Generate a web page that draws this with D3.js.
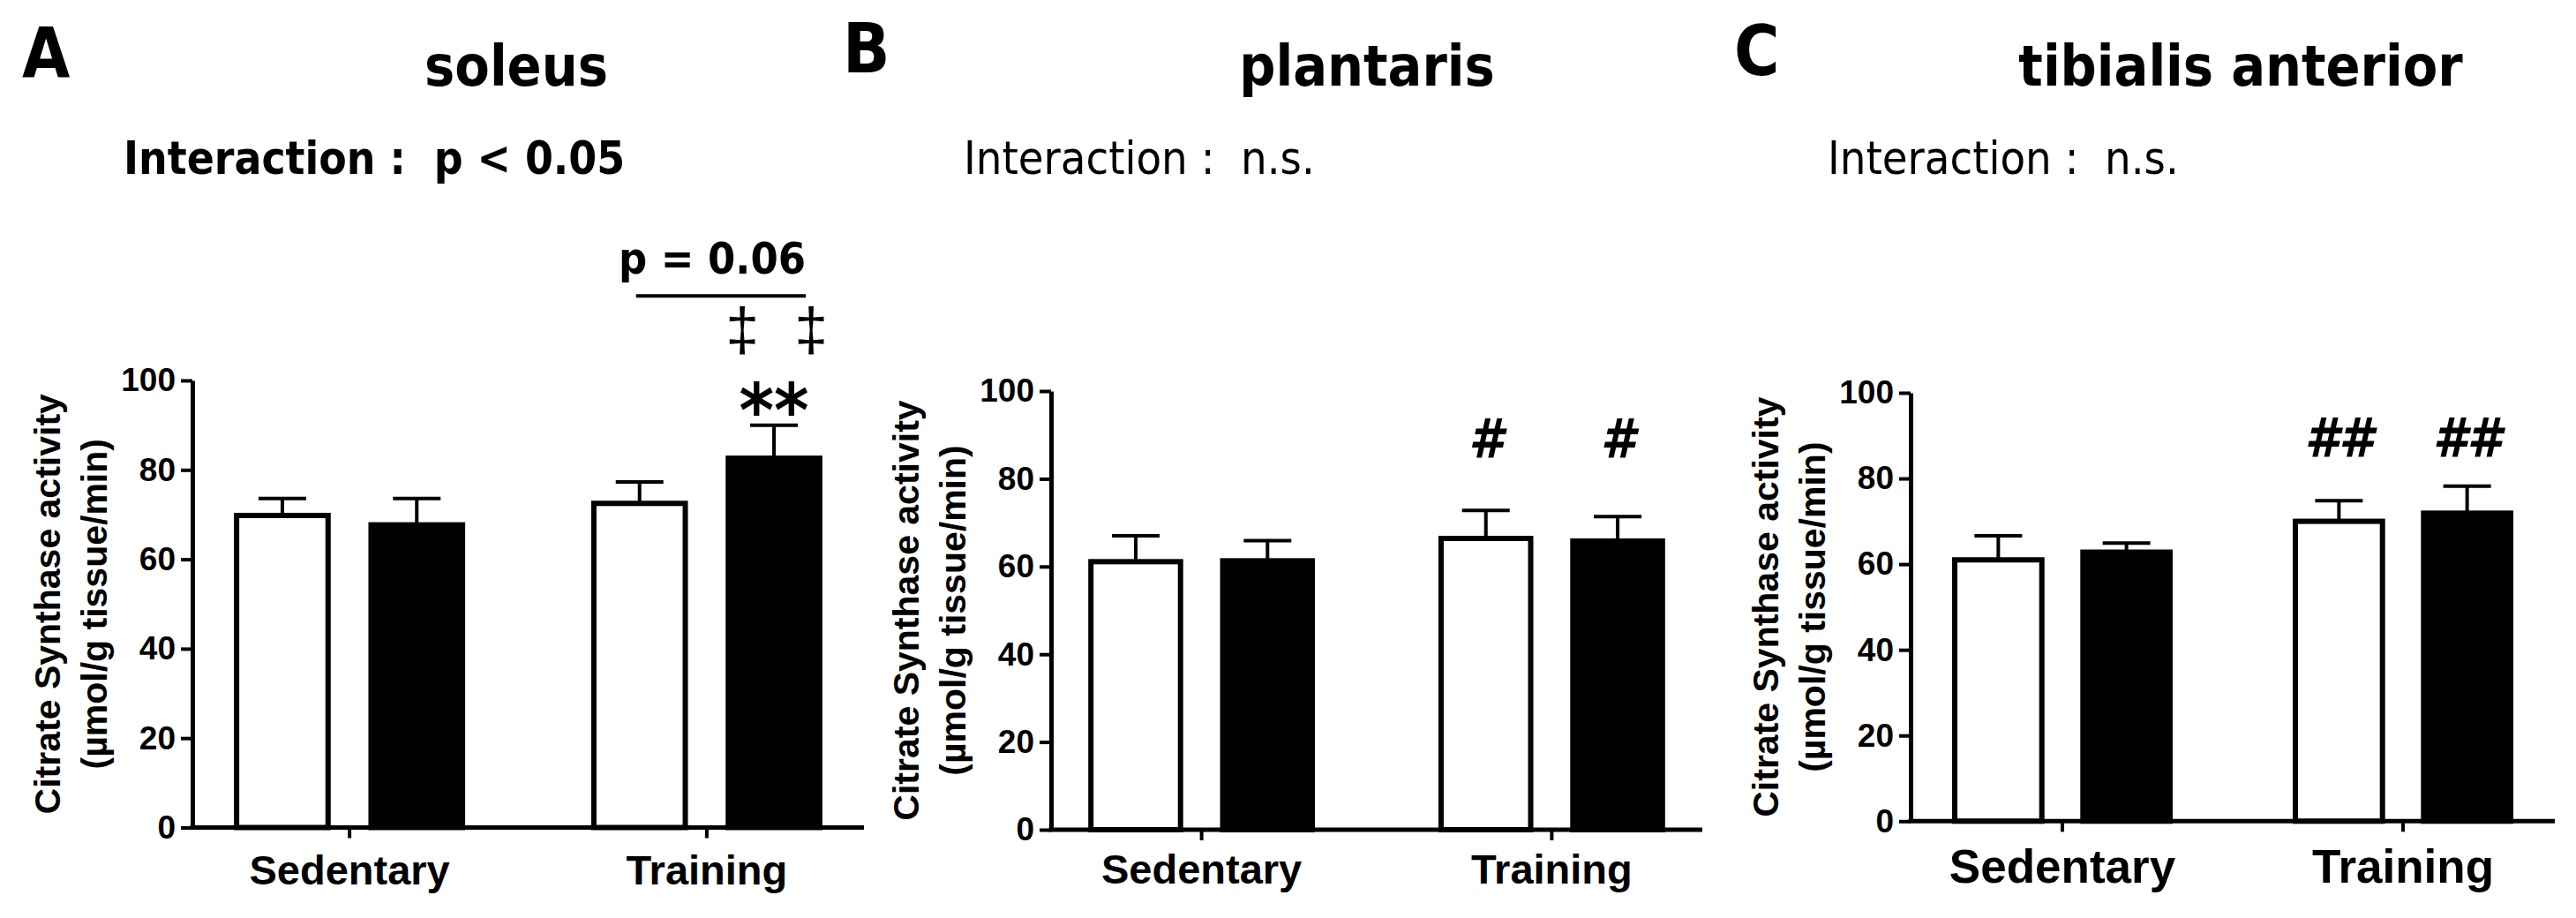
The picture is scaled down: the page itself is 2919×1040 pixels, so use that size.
<!DOCTYPE html>
<html>
<head>
<meta charset="utf-8">
<script src="https://cdn.jsdelivr.net/npm/d3@7"></script>
<style>
  body { margin: 0; background: #fff; }
  text { white-space: pre; }
</style>
</head>
<body>
<div id="container"></div>
<script>
/* DATA */
const groups = ["Sedentary", "Training"]
const yTicks = [0, 20, 40, 60, 80, 100]
const panelLetters = ["A", "B", "C"]
const muscles = ["soleus", "plantaris", "tibialis anterior"]
const interactions = ["Interaction :  p < 0.05", "Interaction :  n.s.", "Interaction :  n.s."]

// bar order: Sedentary open, Sedentary filled, Training open, Training filled
const soleusMean = [69.8, 67.7, 72.5, 82.6]
const soleusSem = [3.8, 5.9, 4.8, 7.4]
const plantarisMean = [61.1, 61.3, 66.4, 65.8]
const plantarisSem = [5.9, 4.6, 6.4, 5.6]
const tibialisMean = [61.0, 62.8, 70.0, 71.9]
const tibialisSem = [5.6, 2.1, 4.8, 6.3]

const soleusSig = ["", "", "", "**"]
const plantarisSig = ["", "", "#", "#"]
const tibialisSig = ["", "", "##", "##"]
const soleusPText = "p = 0.06"
const soleusDagger = "\u2021"

/* CONSTANTS AND GLOBALS */
const width = 2919, height = 1040
const sans = "'Liberation Sans', Arial, Helvetica, sans-serif"
const cond = "'DejaVu Sans Condensed', 'DejaVu Sans', sans-serif"

const panels = [
  {mean: soleusMean, sem: soleusSem, sig: soleusSig, sigLevel: 87.6, sigSize: 84,
   left: 218, right: 979, top: 431, bottom: 937.5, outer: 0.09, catSize: 47, catPad: 19,
   letterX: 25, letterY: 87, titleX: 585, interX: 140, interBold: true},
  {mean: plantarisMean, sem: plantarisSem, sig: plantarisSig, sigLevel: 84.8, sigSize: 62,
   left: 1191, right: 1929, top: 443, bottom: 940, outer: 0.08, catSize: 47, catPad: 16,
   letterX: 955, letterY: 82, titleX: 1549, interX: 1092, interBold: false},
  {mean: tibialisMean, sem: tibialisSem, sig: tibialisSig, sigLevel: 84.9, sigSize: 62,
   left: 2165, right: 2895, top: 445, bottom: 930.3, outer: 0.0956, catSize: 53, catPad: 20,
   letterX: 1965, letterY: 85, titleX: 2539, interX: 2071, interBold: false}
]

// CREATE SVG ELEMENT
const svg = d3.select("#container")
  .append("svg")
    .attr("width", width)
    .attr("height", height)
    .style("background", "#fff")

panels.forEach((p, i) => {
  const g = svg.append("g")

  // SCALES
  const xScale = d3.scaleBand()
    .domain(groups)
    .range([p.left, p.right])
    .paddingInner(0.3)
    .paddingOuter(p.outer)

  const xSub = d3.scaleBand()
    .domain([0, 1])
    .range([0, xScale.bandwidth()])
    .paddingInner(0.3)
    .paddingOuter(0.08)

  const yScale = d3.scaleLinear()
    .domain([0, 100])
    .range([p.bottom, p.top])

  const bars = p.mean.map((m, j) => ({
    group: groups[Math.floor(j / 2)],
    fill: j % 2,
    mean: m,
    sem: p.sem[j],
    sig: p.sig[j]
  }))
  const cx = d => xScale(d.group) + xSub(d.fill) + xSub.bandwidth() / 2

  // BARS
  g.selectAll(".bar")
    .data(bars)
    .join("rect")
      .attr("class", "bar")
      .attr("x", d => xScale(d.group) + xSub(d.fill) + 1.5)
      .attr("width", xSub.bandwidth() - 3)
      .attr("y", d => yScale(d.mean))
      .attr("height", d => yScale(0) - yScale(d.mean))
      .attr("fill", d => d.fill ? "#000" : "#fff")
      .attr("stroke", "#000")
      .attr("stroke-width", 6)

  // ERROR BARS
  g.selectAll(".err")
    .data(bars)
    .join("path")
      .attr("class", "err")
      .attr("fill", "none")
      .attr("stroke", "#000")
      .attr("stroke-width", 4)
      .attr("d", d => `M${cx(d)},${yScale(d.mean)}V${yScale(d.mean + d.sem)}` +
                      `M${cx(d) - 27},${yScale(d.mean + d.sem)}H${cx(d) + 27}`)

  // AXES
  const yAxis = g.append("g")
    .attr("transform", `translate(${p.left},0)`)
    .call(d3.axisLeft(yScale).tickValues(yTicks).tickSize(13).tickSizeOuter(0).tickPadding(6))
  yAxis.attr("font-family", sans).attr("font-size", 37).attr("font-weight", "bold")
  yAxis.select(".domain").attr("stroke-width", 5)
  yAxis.selectAll(".tick line").attr("stroke-width", 4)
  yAxis.selectAll(".tick text").attr("fill", "#000")

  const xAxis = g.append("g")
    .attr("transform", `translate(0,${p.bottom})`)
    .call(d3.axisBottom(xScale).tickSize(12).tickSizeOuter(0).tickPadding(p.catPad))
  xAxis.attr("font-family", sans).attr("font-size", p.catSize).attr("font-weight", "bold")
  xAxis.select(".domain").attr("stroke-width", 5).attr("d", `M${p.left - 2.5},0H${p.right}`)
  xAxis.selectAll(".tick line").attr("stroke-width", 4)
  xAxis.selectAll(".tick text").attr("fill", "#000")

  // Y LABEL
  const yMid = (p.top + p.bottom) / 2
  g.append("text")
    .attr("transform", `translate(${p.left - 150},${yMid}) rotate(-90)`)
    .attr("text-anchor", "middle")
    .attr("font-family", sans)
    .attr("font-weight", "bold")
    .attr("font-size", 41)
    .text("Citrate Synthase activity")
  g.append("text")
    .attr("transform", `translate(${p.left - 97},${yMid}) rotate(-90)`)
    .attr("text-anchor", "middle")
    .attr("font-family", sans)
    .attr("font-weight", "bold")
    .attr("font-size", 41)
    .text("(\u00b5mol/g tissue/min)")

  // SIGNIFICANCE MARKS
  const hashLike = i > 0
  g.selectAll(".sig")
    .data(bars.filter(d => d.sig))
    .join("text")
      .attr("class", "sig")
      .attr("x", d => cx(d))
      .attr("y", yScale(p.sigLevel))
      .attr("text-anchor", "middle")
      .attr("font-family", cond)
      .attr("font-weight", "bold")
      .attr("font-style", hashLike ? "italic" : "normal")
      .attr("font-size", p.sigSize)
      .text(d => d.sig)

  // TITLES
  g.append("text")
    .attr("x", p.letterX)
    .attr("y", p.letterY)
    .attr("font-family", cond)
    .attr("font-weight", "bold")
    .attr("font-size", 78)
    .text(panelLetters[i])

  g.append("text")
    .attr("x", p.titleX)
    .attr("y", 97)
    .attr("text-anchor", "middle")
    .attr("font-family", cond)
    .attr("font-weight", "bold")
    .attr("font-size", 64)
    .text(muscles[i])

  g.append("text")
    .attr("x", p.interX)
    .attr("y", 197)
    .attr("font-family", cond)
    .attr("font-weight", p.interBold ? "bold" : "normal")
    .attr("font-size", p.interBold ? 51 : 52)
    .text(interactions[i])

  // SOLEUS EXTRA COMPARISON
  if (i === 0) {
    const tOpen = bars[2], tFilled = bars[3]
    g.append("line")
      .attr("x1", cx(tOpen) - 4)
      .attr("x2", cx(tFilled) + 36)
      .attr("y1", yScale(118.9))
      .attr("y2", yScale(118.9))
      .attr("stroke", "#000")
      .attr("stroke-width", 4)
    g.append("text")
      .attr("x", cx(tFilled) + 36)
      .attr("y", yScale(123.8))
      .attr("text-anchor", "end")
      .attr("font-family", cond)
      .attr("font-weight", "bold")
      .attr("font-size", 50)
      .text(soleusPText)
    g.selectAll(".dagger")
      .data([-36, 42])
      .join("text")
        .attr("class", "dagger")
        .attr("x", d => cx(tFilled) + d)
        .attr("y", yScale(106.7))
        .attr("text-anchor", "middle")
        .attr("font-family", sans)
        .attr("font-size", 68)
        .text(soleusDagger)
  }
})
</script>
</body>
</html>
